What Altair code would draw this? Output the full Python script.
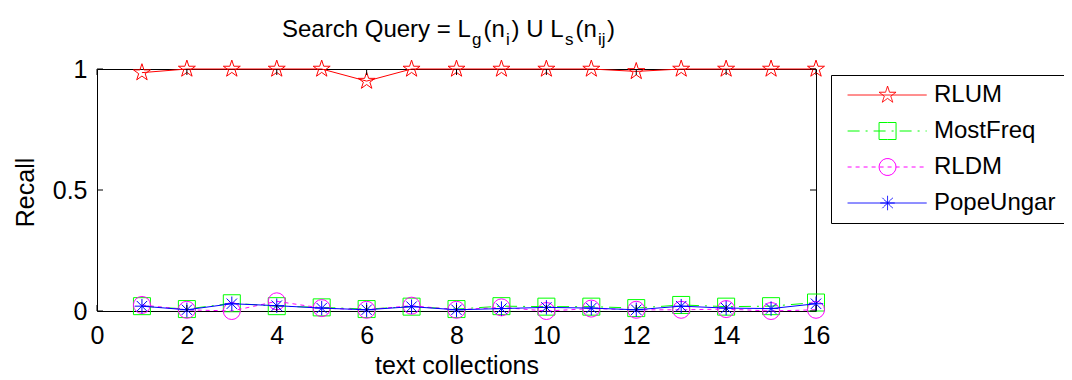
import math
import altair as alt
import pandas as pd

# ---------------- data ----------------
x_vals = list(range(1, 17))
series_names = ["RLUM", "MostFreq", "RLDM", "PopeUngar"]
rlum = [0.985, 1, 1, 1, 1, 0.95, 1, 1, 1, 1, 1, 0.99, 1, 1, 1, 1]
mostfreq = [0.02, 0.008, 0.032, 0.02, 0.015, 0.008, 0.018, 0.008, 0.02, 0.018, 0.018, 0.012, 0.025, 0.018, 0.02, 0.035]
rldm = [0.025, 0.005, 0.0, 0.04, 0.012, 0.005, 0.022, 0.005, 0.015, 0.0, 0.01, 0.005, 0.005, 0.008, 0.0, 0.005]
popeungar = [0.02, 0.005, 0.03, 0.022, 0.012, 0.005, 0.018, 0.005, 0.01, 0.015, 0.012, 0.005, 0.02, 0.012, 0.01, 0.03]
x_ticks = [0, 2, 4, 6, 8, 10, 12, 14, 16]
y_ticks = [0, 0.5, 1]
series_values = [rlum, mostfreq, rldm, popeungar]

# ---------------- styles ----------------
FONT = "Liberation Sans"
W, H = 719, 242
colors = ["#ff0000", "#00ff00", "#ff00ff", "#0000ff"]
dashes = [None, [12, 6, 2, 6], [4, 4], None]
MSIZE = 289


def fmt(v):
    return f"{v:.3f}".rstrip("0").rstrip(".")


def star_path(cx=0.0, R=1.05):
    r = R * 0.382
    pts = []
    for k in range(10):
        a = math.radians(-90 + 36 * k)
        rr = R if k % 2 == 0 else r
        pts.append((cx + rr * math.cos(a), rr * math.sin(a)))
    return "M" + "L".join(f"{fmt(px)},{fmt(py)}" for px, py in pts) + "Z"


def aster_path(cx=0.0, a=0.85):
    d = a * 0.72
    return (f"M{fmt(cx)},{fmt(-a)}V{fmt(a)}M{fmt(cx - a)},0H{fmt(cx + a)}"
            f"M{fmt(cx - d)},{fmt(-d)}L{fmt(cx + d)},{fmt(d)}"
            f"M{fmt(cx - d)},{fmt(d)}L{fmt(cx + d)},{fmt(-d)}")


def pieces_path(pts):
    # closed outline drawn as separate short subpaths (dash restarts on each,
    # so a dashed legend line still gets a solid marker)
    out = []
    n = len(pts)
    for k in range(n):
        (x0, y0), (x1, y1) = pts[k], pts[(k + 1) % n]
        out.append(f"M{fmt(x0)},{fmt(y0)}L{fmt(x1)},{fmt(y1)}")
    return "".join(out)


def square_pieces(cx=0.0, h=1.0):
    pts = [(cx - h, -h), (cx, -h), (cx + h, -h), (cx + h, 0), (cx + h, h),
           (cx, h), (cx - h, h), (cx - h, 0)]
    return pieces_path(pts)


def circle_pieces(cx=0.0, r=1.0, n=18):
    pts = [(cx + r * math.cos(2 * math.pi * k / n), r * math.sin(2 * math.pi * k / n))
           for k in range(n)]
    return pieces_path(pts)


plot_shapes = [star_path(), "square", "circle", aster_path()]

# legend symbols: line segment + marker (in symbol units)
LC = 4.3
line_seg = "M-0.4,0H8.9"
leg_paths = [
    line_seg + star_path(LC),
    line_seg + square_pieces(LC),
    line_seg + circle_pieces(LC),
    line_seg + aster_path(LC),
]
leg_dashes = [[1, 0], [12, 6, 2, 6], [4, 4], [1, 0]]

legend = alt.Legend(
    orient="none", legendX=734, legendY=6,
    strokeColor="black", fillColor="white", padding=8, cornerRadius=0,
    labelFont=FONT, labelFontSize=24, labelColor="black", labelOffset=71, labelLimit=400,
    symbolSize=MSIZE, symbolStrokeWidth=1, rowPadding=12, symbolOpacity=1,
)

xscale = alt.Scale(domain=[0, 16], nice=False, zero=False)
yscale = alt.Scale(domain=[0, 1], nice=False, zero=False)
xaxis = alt.Axis(values=x_ticks, title="text collections", titleY=62,
                 titleBaseline="alphabetic", labelPadding=12, labelFlush=False)
yaxis = alt.Axis(values=y_ticks, format="~g", title="Recall", titleX=-64, titleY=123,
                 titleAngle=270, titleAlign="center", titleBaseline="alphabetic",
                 labelPadding=10)
X = alt.X("x:Q", scale=xscale, axis=xaxis)
Y = alt.Y("value:Q", scale=yscale, axis=yaxis)

df = pd.DataFrame({
    "x": x_vals * len(series_names),
    "value": [v for vals in series_values for v in vals],
    "series": [s for s in series_names for _ in x_vals],
})

layers = []
for i, name in enumerate(series_names):
    base = alt.Chart(df).transform_filter(alt.datum.series == name)
    lk = dict(strokeWidth=1, color=colors[i])
    if dashes[i]:
        lk["strokeDash"] = dashes[i]
    line = base.mark_line(**lk).encode(x=X, y=Y)
    pts = base.mark_point(shape=plot_shapes[i], size=MSIZE, filled=False,
                          strokeWidth=1, opacity=1, color=colors[i]).encode(x=X, y=Y)
    layers += [line, pts]

# legend-only layer (no rows drawn): line + marker symbols, dash per series
legend_layer = alt.Chart(df).transform_filter("false").mark_point(
    filled=False, size=MSIZE, strokeWidth=1, opacity=1
).encode(
    x=X, y=Y,
    color=alt.Color("series:N", scale=alt.Scale(domain=series_names, range=colors),
                    legend=legend, title=None),
    shape=alt.Shape("series:N", scale=alt.Scale(domain=series_names, range=leg_paths),
                    legend=legend, title=None),
    strokeDash=alt.StrokeDash("series:N", scale=alt.Scale(domain=series_names, range=leg_dashes),
                              legend=legend, title=None),
)

# inner tick marks (MATLAB style)
xt = alt.Chart(pd.DataFrame({"x": x_ticks}))
yt = alt.Chart(pd.DataFrame({"value": y_ticks}))
TL = 6
tick_layers = [
    xt.mark_rule(color="black", strokeWidth=1).encode(x=X, y=alt.value(H), y2=alt.value(H - TL)),
    xt.mark_rule(color="black", strokeWidth=1).encode(x=X, y=alt.value(0), y2=alt.value(TL)),
    yt.mark_rule(color="black", strokeWidth=1).encode(y=Y, x=alt.value(0), x2=alt.value(TL)),
    yt.mark_rule(color="black", strokeWidth=1).encode(y=Y, x=alt.value(W), x2=alt.value(W - TL)),
]

# title with subscripts: Search Query = L_g(n_i) U L_s(n_ij)
title_pieces = [
    ("Search Query = L", 185, -32, 24),
    ("g", 375, -24, 17),
    ("(n", 386.5, -32, 24),
    ("i", 409, -24, 17),
    (") U L", 414.5, -32, 24),
    ("s", 468, -24, 17),
    ("(n", 478.5, -32, 24),
    ("ij", 501, -24, 17),
    (")", 510, -32, 24),
]
dummy = alt.Chart(pd.DataFrame({"d": [0]}))
title_layers = [
    dummy.mark_text(font=FONT, fontSize=fs, align="left", baseline="alphabetic",
                    color="black").encode(text=alt.value(txt), x=alt.value(px), y=alt.value(py))
    for txt, px, py, fs in title_pieces
]

chart = alt.layer(*layers, legend_layer, *tick_layers, *title_layers).properties(
    width=W, height=H,
    autosize=alt.AutoSizeParams(type="none"),
    padding={"left": 89, "top": 61, "right": 248, "bottom": 66},
    background="white",
).configure_view(stroke="black", strokeWidth=1).configure_axis(
    domain=False, grid=False, ticks=False, tickSize=0,
    labelFont=FONT, labelFontSize=25, labelColor="black",
    titleFont=FONT, titleFontSize=25, titleColor="black", titleFontWeight="normal",
)

chart.save("out.html", embed_options={"renderer": "svg", "actions": False})
